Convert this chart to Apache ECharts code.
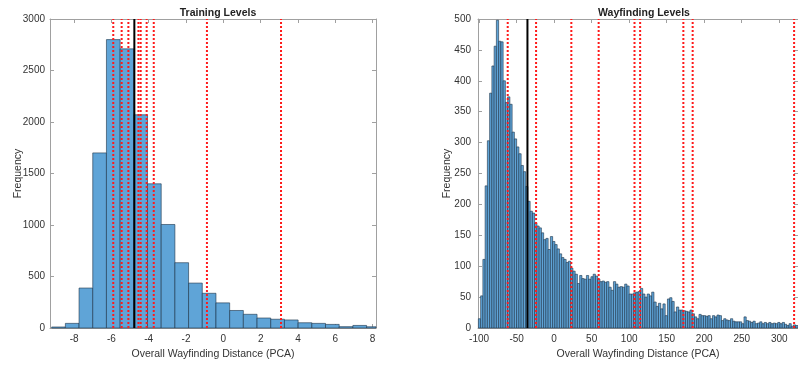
<!DOCTYPE html>
<html><head><meta charset="utf-8">
<script src="https://cdn.jsdelivr.net/npm/echarts@6/dist/echarts.min.js"></script>
<style>html,body{margin:0;padding:0;background:#fff}#c{width:798px;height:365px}</style>
</head><body><div id="c"></div>
<script>
// ---- Training Levels (left) ----
const trainBinStart = -9.2;
const trainBinWidth = 0.7337;
const trainCounts = [10, 45, 388, 1700, 2800, 2710, 2070, 1400, 1005, 634, 436, 337, 244, 170, 133, 97, 85, 78, 51, 45, 35, 13, 25, 12];
const trainRedLines = [-5.9, -5.45, -5.09, -4.55, -4.43, -4.11, -3.73, -0.88, 3.09];
const trainBlackLines = [-4.77];
const trainXTicks = [-8, -6, -4, -2, 0, 2, 4, 6, 8];

// ---- Wayfinding Levels (right) ----
const wayBinStart = -101;
const wayBinWidth = 3;
const wayCounts = [
  15, 52, 111, 230, 303, 380, 424, 456, 498, 464, 463, 400, 365, 374, 362, 317, 306, 293, 282, 263,
  253, 229, 205, 189, 186, 170, 165, 162, 154, 143, 145, 127, 148, 140, 135, 128, 120,
  114, 111, 106, 108, 97, 92, 87, 72, 85, 80, 79, 85, 79, 83, 87, 84, 79, 75, 76, 74, 75, 66, 61,
  75, 71, 66, 67, 66, 71, 68, 55, 55, 57, 58,
  59, 64, 55, 50, 55, 52, 58, 42, 35, 40, 31, 39, 20, 47, 49, 43, 26, 34, 29, 29, 28, 27, 26, 29,
  23, 18, 15, 22, 20, 20, 19, 20, 15, 20,
  18, 21, 20, 12, 15, 13, 12, 15, 11, 10, 10, 10, 7, 18, 12, 11, 9, 11, 7, 8, 10, 7, 9, 7, 9, 7,
  8, 7, 9, 7, 9, 6, 4, 7, 3, 5, 4
];
const wayRedLines = [-61.9, -24.1, 22.9, 59.3, 107.1, 114.6, 172.2, 184.6, 319.8];
const wayBlackLines = [-35.6];
const wayXTicks = [-100, -50, 0, 50, 100, 150, 200, 250, 300];

const FONT = '"Liberation Sans", Arial, sans-serif';
const AX = '#a0a0a0';
const TXT = '#333';

function bins(start, w, counts) {
  return counts.map((c, i) => [start + i * w, start + (i + 1) * w, c]);
}
function histItem(params, api) {
  const x0 = api.value(0), x1 = api.value(1), y = api.value(2);
  const p0 = api.coord([x0, 0]), p1 = api.coord([x1, y]);
  const cs = params.coordSys;
  const r = echarts.graphic.clipRectByRect(
    {x: p0[0], y: p1[1], width: p1[0] - p0[0], height: p0[1] - p1[1]},
    {x: cs.x, y: cs.y, width: cs.width, height: cs.height});
  if (!r) return null;
  return {type: 'rect', shape: r, style: {fill: '#5fa4d7', stroke: '#1b3248', lineWidth: 0.6}};
}
function vlines(xs, ymax, color, dash, gi) {
  return xs.map(x => ({
    type: 'line', xAxisIndex: gi * 2, yAxisIndex: gi * 2, data: [[x, 0], [x, ymax]],
    symbol: 'none', silent: true, z: dash ? 5 : 6,
    lineStyle: {color: color, width: 2, type: dash ? [2, 2] : 'solid'}
  }));
}
const plain = v => String(v);
function xAxes(gi, min, max, ticks) {
  return [
    {gridIndex: gi, type: 'value', position: 'bottom', min, max,
     axisLine: {show: true, onZero: false, lineStyle: {color: AX}},
     axisTick: {show: true, inside: true, length: 4, customValues: ticks, lineStyle: {color: AX}},
     axisLabel: {customValues: ticks, color: TXT, fontSize: 10, fontFamily: FONT, margin: 6, formatter: plain},
     splitLine: {show: false},
     name: 'Overall Wayfinding Distance (PCA)', nameLocation: 'middle', nameGap: 21,
     nameTextStyle: {color: TXT, fontSize: 10.5, fontFamily: FONT}},
    {gridIndex: gi, type: 'value', position: 'top', min, max,
     axisLine: {show: true, onZero: false, lineStyle: {color: AX}},
     axisTick: {show: true, inside: true, length: 4, customValues: ticks, lineStyle: {color: AX}},
     axisLabel: {show: false}, splitLine: {show: false}}
  ];
}
function yAxes(gi, max, interval, margin, nameGap) {
  return [
    {gridIndex: gi, type: 'value', position: 'left', min: 0, max, interval,
     axisLine: {show: true, onZero: false, lineStyle: {color: AX}},
     axisTick: {show: true, inside: true, length: 4, lineStyle: {color: AX}},
     axisLabel: {color: TXT, fontSize: 10, fontFamily: FONT, margin, formatter: plain},
     splitLine: {show: false},
     name: 'Frequency', nameLocation: 'middle', nameGap, nameRotate: 90, nameMoveOverlap: false,
     nameTextStyle: {color: TXT, fontSize: 10.5, fontFamily: FONT}},
    {gridIndex: gi, type: 'value', position: 'right', min: 0, max, interval,
     axisLine: {show: true, onZero: false, lineStyle: {color: AX}},
     axisTick: {show: true, inside: true, length: 4, lineStyle: {color: AX}},
     axisLabel: {show: false}, splitLine: {show: false}}
  ];
}

const chart = echarts.init(document.getElementById('c'), null, {renderer: 'canvas'});
chart.setOption({
  animation: false,
  backgroundColor: '#fff',
  title: [
    {text: 'Training Levels', left: 213, top: 3, textAlign: 'center',
     textStyle: {fontSize: 10.5, fontWeight: 'bold', color: '#222', fontFamily: FONT}},
    {text: 'Wayfinding Levels', left: 639, top: 3, textAlign: 'center',
     textStyle: {fontSize: 10.5, fontWeight: 'bold', color: '#222', fontFamily: FONT}}
  ],
  grid: [
    {left: 50, top: 19, width: 326, height: 312},
    {left: 478, top: 19, width: 321, height: 312}
  ],
  xAxis: [].concat(xAxes(0, -9.29, 8.18, trainXTicks), xAxes(1, -101.5, 325, wayXTicks)),
  yAxis: [].concat(yAxes(0, 3000, 500, 5, 26), yAxes(1, 500, 50, 7, 25)),
  series: [].concat(
    [{type: 'custom', xAxisIndex: 0, yAxisIndex: 0, renderItem: histItem,
      encode: {x: [0, 1], y: 2}, data: bins(trainBinStart, trainBinWidth, trainCounts), z: 2}],
    vlines(trainRedLines, 3000, '#ff1a1a', true, 0),
    vlines(trainBlackLines, 3000, '#000', false, 0),
    [{type: 'custom', xAxisIndex: 2, yAxisIndex: 2, renderItem: histItem,
      encode: {x: [0, 1], y: 2}, data: bins(wayBinStart, wayBinWidth, wayCounts), z: 2}],
    vlines(wayRedLines, 500, '#ff1a1a', true, 1),
    vlines(wayBlackLines, 500, '#000', false, 1)
  )
});
</script></body></html>
